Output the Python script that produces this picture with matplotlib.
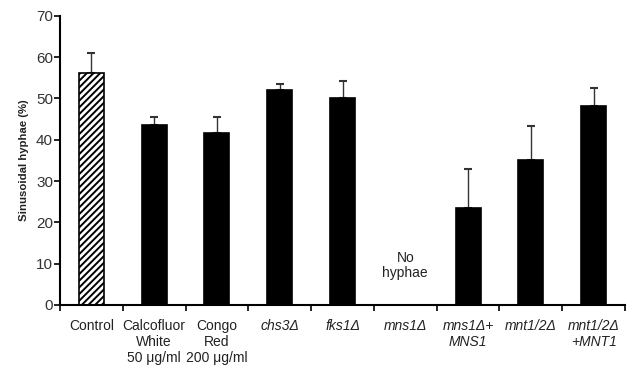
import matplotlib
matplotlib.use("Agg")
import matplotlib.pyplot as plt
import numpy as np

plt.rcParams['font.family'] = ['Liberation Sans', 'DejaVu Sans']
plt.rcParams['hatch.linewidth'] = 1.4

categories = ["Control", "Calcofluor\nWhite\n50 μg/ml", "Congo\nRed\n200 μg/ml",
              "chs3Δ", "fks1Δ", "mns1Δ", "mns1Δ+\nMNS1", "mnt1/2Δ", "mnt1/2Δ\n+MNT1"]
italic_flags = [False, False, False, True, True, True, True, True, True]
values = [56.2, 43.6, 41.6, 52.1, 50.2, 0.0, 23.4, 35.1, 48.2]
errors = [4.7, 2.0, 3.8, 1.3, 4.0, 0.0, 9.5, 8.2, 4.3]
yticks = [0, 10, 20, 30, 40, 50, 60, 70]

fig = plt.figure(figsize=(6.27, 3.70), dpi=100)
ax = fig.add_axes([60/627, 65/370, 565/627, (305-15.7)/370])

x = np.arange(len(categories))
for i, (v, e) in enumerate(zip(values, errors)):
    if i == 5:
        continue
    if i == 0:
        ax.bar(x[i], v, width=0.4, color='white', edgecolor='black', hatch='/////',
               linewidth=1.2, zorder=2)
    else:
        ax.bar(x[i], v, width=0.4, color='black', edgecolor='black', linewidth=1.2, zorder=2)
    ax.errorbar(x[i], v, yerr=[[0], [e]], fmt='none', ecolor='#333333',
                elinewidth=1.0, capsize=3, capthick=1.5, zorder=1)

ax.text(x[5], 6.0, "No\nhyphae", ha='center', va='bottom', fontsize=10,
        color='#222222', linespacing=1.15)

ax.set_xlim(-0.5, len(categories) - 0.5)
ax.set_ylim(0, 70)
ax.set_yticks(yticks)
ax.set_xticks(x)
ax.set_xticklabels(categories, fontsize=10, color='#222222', linespacing=1.2)
for lab, it in zip(ax.get_xticklabels(), italic_flags):
    if it:
        lab.set_fontstyle('italic')
ax.set_xticks(np.arange(-0.5, len(categories)), minor=True)
ax.tick_params(axis='x', which='major', length=0, pad=10)
ax.tick_params(axis='x', which='minor', length=4, width=1.2, direction='out')
ax.tick_params(axis='y', length=4, width=1.2, direction='out', pad=1,
               labelsize=11, labelcolor='#333333')

for s in ['top', 'right']:
    ax.spines[s].set_visible(False)
for s in ['left', 'bottom']:
    ax.spines[s].set_linewidth(1.5)

ax.set_ylabel("Sinusoidal hyphae (%)", fontsize=8.2, fontweight='bold', color='#222222',
              labelpad=5)

fig.savefig("out.png", dpi=100)
